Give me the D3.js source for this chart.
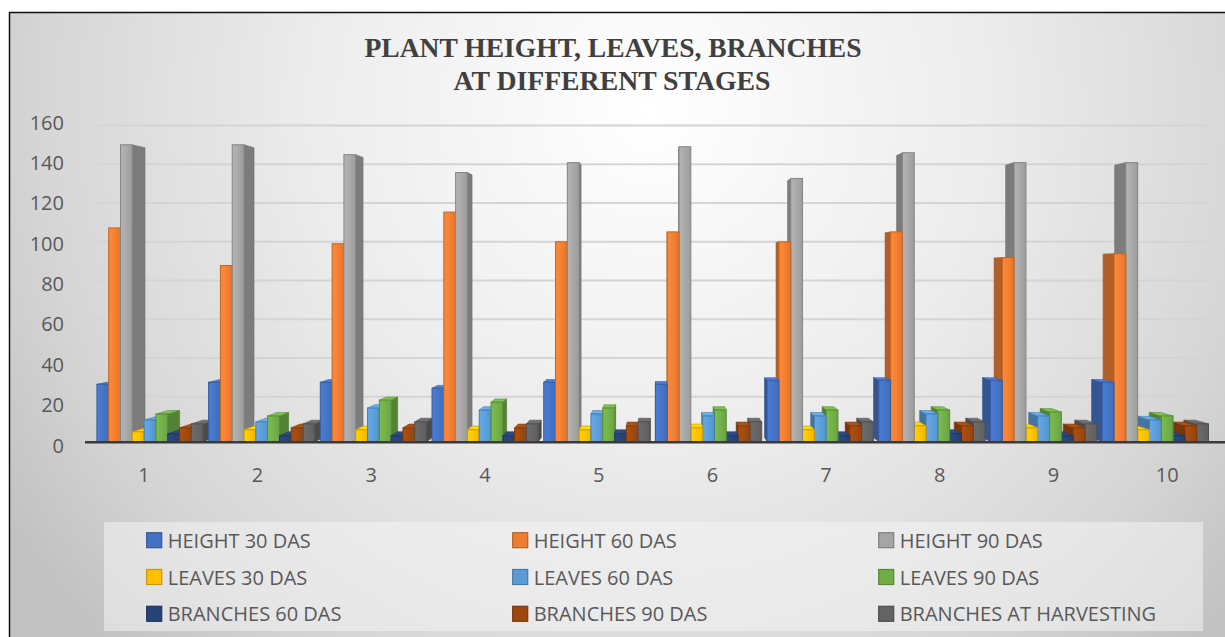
<!DOCTYPE html>
<html>
<head>
<meta charset="utf-8">
<script src="https://cdn.jsdelivr.net/npm/d3@7"></script>
<style>
html,body{margin:0;padding:0;background:#ffffff;}
svg{display:block;}
</style>
</head>
<body>
<svg id="chart" width="1225" height="637"></svg>
<script>
// ---------------- DATA ----------------
const titleLines = ["PLANT HEIGHT, LEAVES, BRANCHES", "AT DIFFERENT STAGES"];
const categories = ["1","2","3","4","5","6","7","8","9","10"];
const seriesNames = ["HEIGHT 30 DAS","HEIGHT 60 DAS","HEIGHT 90 DAS",
                     "LEAVES 30 DAS","LEAVES 60 DAS","LEAVES 90 DAS",
                     "BRANCHES 60 DAS","BRANCHES 90 DAS","BRANCHES AT HARVESTING"];
const seriesColors = ["#4472C4","#ED7D31","#A5A5A5","#FFC000","#5B9BD5","#70AD47","#264478","#9E480E","#636363"];
const height30 = [29, 30, 30, 27, 30, 29, 31, 31, 31, 30];
const height60 = [108, 89, 100, 116, 101, 106, 101, 106, 93, 95];
const height90 = [150, 150, 145, 136, 141, 149, 133, 146, 141, 141];
const leaves30 = [5, 6, 6, 6, 6, 7, 6, 8, 7, 6];
const leaves60 = [11, 10, 17, 16, 14, 13, 13, 14, 13, 11];
const leaves90 = [14, 13, 21, 20, 17, 16, 16, 16, 15, 13];
const branches60 = [4, 3, 3, 3, 4, 3, 3, 4, 3, 3];
const branches90 = [7, 7, 7, 7, 8, 8, 8, 8, 7, 8];
const branchesHarvest = [9, 9, 10, 9, 10, 10, 10, 10, 9, 9];
const yTicks = [0, 20, 40, 60, 80, 100, 120, 140, 160];

const seriesValues = [height30, height60, height90, leaves30, leaves60, leaves90, branches60, branches90, branchesHarvest];

// ---------------- SETUP ----------------
const svg = d3.select("#chart");
const W = 1225, H = 637;
const defs = svg.append("defs");

// background gradient
const bg = defs.append("radialGradient").attr("id","bgGrad")
  .attr("gradientUnits","userSpaceOnUse")
  .attr("cx",650).attr("cy",110).attr("r",760);
bg.append("stop").attr("offset","0").attr("stop-color","#ffffff");
bg.append("stop").attr("offset","0.45").attr("stop-color","#ececec");
bg.append("stop").attr("offset","0.8").attr("stop-color","#d6d6d6");
bg.append("stop").attr("offset","1").attr("stop-color","#c2c2c2");

svg.append("rect").attr("x",0).attr("y",0).attr("width",W).attr("height",H).attr("fill","#ffffff");
svg.append("rect").attr("x",10).attr("y",13).attr("width",W-10).attr("height",H-13).attr("fill","url(#bgGrad)");
// outer border (left and top visible)
svg.append("path").attr("d",`M9.5,${H} L9.5,12.5 L${W},12.5`).attr("fill","none").attr("stroke","#111").attr("stroke-width",1.5);

// per-series front gradients
seriesColors.forEach((c,i)=>{
  const col = d3.color(c);
  const g = defs.append("linearGradient").attr("id","fg"+i).attr("x1","0").attr("x2","1").attr("y1","0").attr("y2","0");
  g.append("stop").attr("offset","0").attr("stop-color",col.brighter(0.25).formatHex());
  g.append("stop").attr("offset","0.45").attr("stop-color",col.brighter(0.1).formatHex());
  g.append("stop").attr("offset","1").attr("stop-color",col.darker(0.15).formatHex());
});

// ---------------- SCALES ----------------
const xAxisScale = d3.scaleBand().domain(categories).range([87, 1224]);
const xGroup = d3.scaleBand().domain(categories).range([94.2, 1211.2]);
const xInner = d3.scaleBand().domain(seriesNames).range([0, xGroup.bandwidth()]).paddingInner(0).paddingOuter(0.23);
const yFront = d3.scaleLinear().domain([0,160]).range([441.7, 125]);
const yBack = d3.scaleLinear().domain([0,160]).range([435.4, 125.6]);
const yLabel = d3.scaleLinear().domain([0,160]).range([445, 122]);

// perspective
const vx = 660, vy = 270, s = 0.976;
const proj = (x,y) => [vx + (x-vx)*s, vy + (y-vy)*s];

// ---------------- GRIDLINES ----------------
svg.append("g").selectAll("line").data(yTicks.filter(d=>d>0)).join("line")
  .attr("x1",98).attr("x2",1208)
  .attr("y1",d=>yBack(d)).attr("y2",d=>yBack(d))
  .attr("stroke","#d4d4d4").attr("stroke-width",2);

// ---------------- TITLE ----------------
const titleG = svg.append("g");
titleG.append("text").attr("x",613).attr("y",57).attr("text-anchor","middle")
  .attr("font-family","'Liberation Serif','Times New Roman',serif").attr("font-weight","bold")
  .attr("font-size",27).attr("fill","#404040")
  .attr("textLength",497).attr("lengthAdjust","spacingAndGlyphs")
  .text(titleLines[0]);
titleG.append("text").attr("x",612).attr("y",90).attr("text-anchor","middle")
  .attr("font-family","'Liberation Serif','Times New Roman',serif").attr("font-weight","bold")
  .attr("font-size",27).attr("fill","#404040")
  .attr("textLength",317).attr("lengthAdjust","spacingAndGlyphs")
  .text(titleLines[1]);

// ---------------- BARS ----------------
const bars = [];
categories.forEach((cat,i)=>{
  seriesNames.forEach((name,j)=>{
    const x0 = xGroup(cat) + xInner(name);
    const x1 = x0 + xInner.bandwidth();
    const v = seriesValues[j][i];
    bars.push({cat, name, j, v, x0, x1, yT: yFront(v), yB: yFront(0), xc:(x0+x1)/2});
  });
});
bars.sort((a,b)=>Math.abs(b.xc-vx)-Math.abs(a.xc-vx));

const pts = arr => arr.map(p=>p.join(",")).join(" ");
const barG = svg.append("g").selectAll("g").data(bars).join("g");

barG.each(function(d){
  const g = d3.select(this);
  const col = d3.color(seriesColors[d.j]);
  const edge = d.xc < vx ? d.x1 : d.x0;
  // side face
  g.append("polygon")
    .attr("points", pts([[edge,d.yT], proj(edge,d.yT), proj(edge,d.yB), [edge,d.yB]]))
    .attr("fill", col.darker(0.8).formatHex())
    .attr("stroke", col.darker(1.1).formatHex()).attr("stroke-width",0.6);
  // top face
  if (d.yT > vy) {
    g.append("polygon")
      .attr("points", pts([[d.x0,d.yT],[d.x1,d.yT], proj(d.x1,d.yT), proj(d.x0,d.yT)]))
      .attr("fill", col.brighter(0.35).formatHex())
      .attr("stroke", col.darker(0.6).formatHex()).attr("stroke-width",0.6);
  }
  // front face
  g.append("rect")
    .attr("x", d.x0).attr("y", d.yT)
    .attr("width", d.x1-d.x0).attr("height", d.yB-d.yT)
    .attr("fill", "url(#fg"+d.j+")")
    .attr("stroke", col.darker(0.6).formatHex()).attr("stroke-width",1);
});

// baseline
svg.append("line").attr("x1",85).attr("x2",1225)
  .attr("y1",yFront(0)+0.5).attr("y2",yFront(0)+0.5)
  .attr("stroke","#3a3a3a").attr("stroke-width",2.5);

// ---------------- AXES ----------------
const fontSans = "'Open Sans','Noto Sans',sans-serif";
const yAxisG = svg.append("g").attr("transform","translate(64,0)")
  .call(d3.axisLeft(yLabel).tickValues(yTicks).tickSize(0).tickPadding(0).tickFormat(d3.format("d")));
yAxisG.select(".domain").remove();
yAxisG.selectAll("text").attr("font-family",fontSans).attr("font-size",20).attr("fill","#595959").attr("dy","0.35em");

const xAxisG = svg.append("g").attr("transform","translate(0,475)")
  .call(d3.axisBottom(xAxisScale).tickSize(0).tickPadding(0));
xAxisG.select(".domain").remove();
xAxisG.selectAll("text").attr("font-family",fontSans).attr("font-size",20).attr("fill","#595959").attr("y",0).attr("dy","0.35em");

// ---------------- LEGEND ----------------
svg.append("rect").attr("x",104).attr("y",522).attr("width",1099).attr("height",109)
  .attr("fill","#f4f4f4").attr("opacity",0.55);

const legG = svg.append("g").selectAll("g").data(seriesNames).join("g")
  .attr("transform",(d,i)=>`translate(${146.7 + (i%3)*366},${540.7 + Math.floor(i/3)*36.8})`);
legG.append("rect").attr("x",0).attr("y",-8).attr("width",15).attr("height",15)
  .attr("fill",(d,i)=>seriesColors[i])
  .attr("stroke",(d,i)=>d3.color(seriesColors[i]).darker(0.7).formatHex()).attr("stroke-width",1.2);
legG.append("text").attr("x",21).attr("y",0).attr("dy","0.35em")
  .attr("font-family",fontSans).attr("font-size",20).attr("fill","#595959")
  .text(d=>d);
</script>
</body>
</html>
